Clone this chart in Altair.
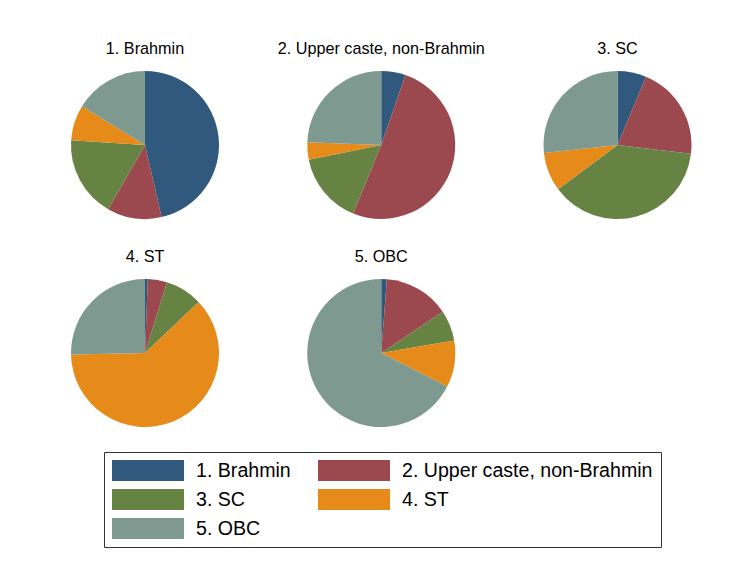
import altair as alt
import pandas as pd

# ---- data ----
categories = ["1. Brahmin", "2. Upper caste, non-Brahmin", "3. SC", "4. ST", "5. OBC"]
panel_titles = ["1. Brahmin", "2. Upper caste, non-Brahmin", "3. SC", "4. ST", "5. OBC"]
panel_cols = [0, 1, 2, 0, 1]
panel_rows = [0, 0, 0, 1, 1]

share_brahmin = [46.4, 11.9, 17.7, 7.8, 16.2]
share_upper = [5.3, 50.9, 15.6, 3.8, 24.4]
share_sc = [6.3, 20.6, 37.9, 8.5, 26.7]
share_st = [0.6, 4.2, 8.1, 61.8, 25.3]
share_obc = [1.2, 14.4, 6.7, 10.2, 67.5]
panel_shares = [share_brahmin, share_upper, share_sc, share_st, share_obc]

colors = ["#31597d", "#9b494f", "#668344", "#e68b1a", "#7d9990"]

rows = []
for p, (title, c, r, vals) in enumerate(zip(panel_titles, panel_cols, panel_rows, panel_shares)):
    for k, (cat, v) in enumerate(zip(categories, vals)):
        rows.append({"panel": title, "col": c, "row": r, "category": cat, "order": k, "value": v})
df = pd.DataFrame(rows)
titles_df = pd.DataFrame({"panel": panel_titles, "col": panel_cols, "row": panel_rows})

xs = alt.Scale(domain=[0, 2], range=[137, 609.5])
ys = alt.Scale(domain=[0, 1], range=[137, 345])
FONT = "Liberation Sans"

pies = (
    alt.Chart(df)
    .transform_joinaggregate(total="sum(value)", groupby=["panel"])
    .transform_window(cum="sum(value)", groupby=["panel"],
                      sort=[alt.SortField("order")], frame=[None, 0])
    .transform_calculate(t0="(datum.cum - datum.value) / datum.total",
                         t1="datum.cum / datum.total")
    .mark_arc(radius=74)
    .encode(
        x=alt.X("col:Q", scale=xs, axis=None),
        y=alt.Y("row:Q", scale=ys, axis=None),
        theta=alt.Theta("t0:Q", scale=alt.Scale(domain=[0, 1])),
        theta2="t1:Q",
        color=alt.Color(
            "category:N",
            scale=alt.Scale(domain=categories, range=colors),
            sort=categories,
            legend=alt.Legend(
                title=None, orient="none", legendX=96, legendY=444,
                direction="horizontal",
                columns=2, symbolType="M-3.43,-1H3.43V1H-3.43Z", symbolSize=441,
                symbolStrokeWidth=0, symbolOpacity=1,
                symbolOffset=25.5, labelOffset=37.5,
                labelFont=FONT, labelFontSize=19.6, labelColor="#000000", labelLimit=500,
                strokeColor="#333333", padding=8, rowPadding=8, columnPadding=26,
            ),
        ),
    )
)

titles = (
    alt.Chart(titles_df)
    .mark_text(dy=-91.5, baseline="alphabetic", fontSize=16.2, font=FONT, color="#000000")
    .encode(
        x=alt.X("col:Q", scale=xs, axis=None),
        y=alt.Y("row:Q", scale=ys, axis=None),
        text="panel:N",
    )
)

chart = (
    alt.layer(pies, titles)
    .properties(width=725, height=546, padding=0, background="white")
    .configure_view(stroke=None)
)

chart.save("out.html", embed_options={"renderer": "svg", "actions": False})
